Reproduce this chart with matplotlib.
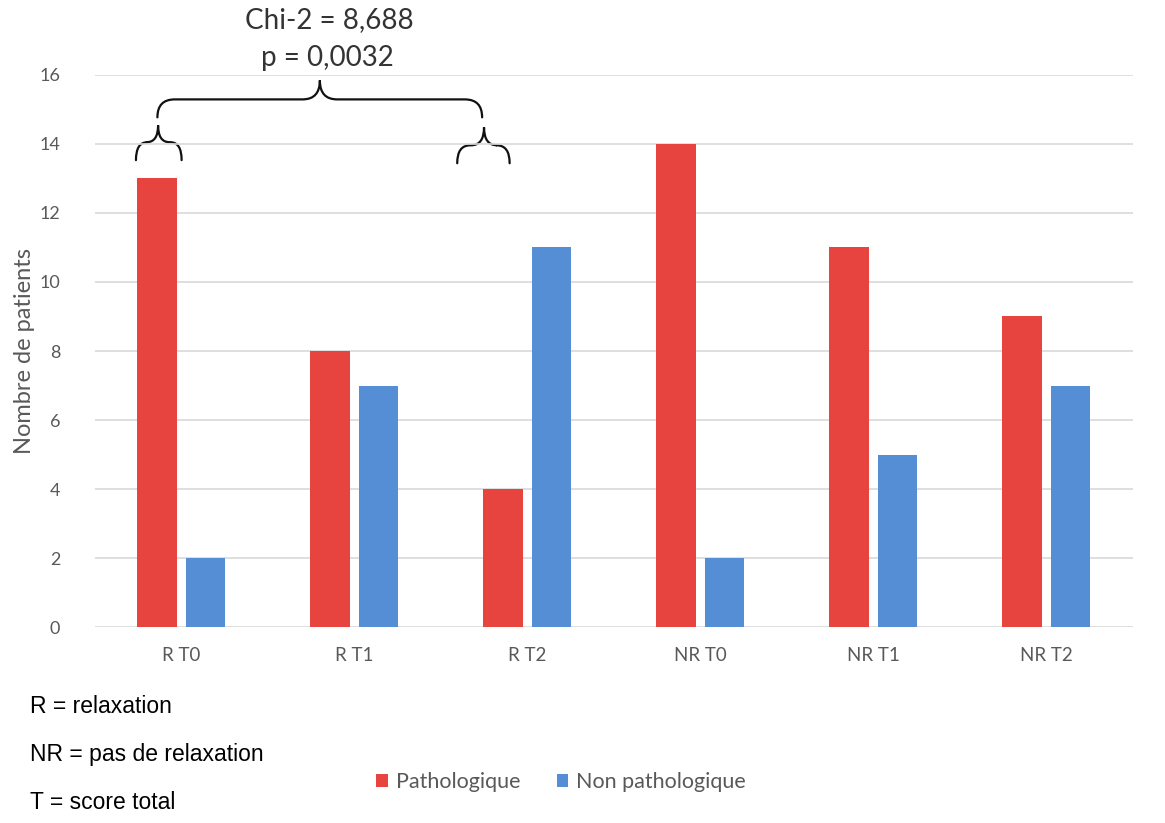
import matplotlib

matplotlib.use("Agg")
import matplotlib.pyplot as plt
import numpy as np
from matplotlib.patches import PathPatch
from matplotlib.path import Path

categories = ["R T0", "R T1", "R T2", "NR T0", "NR T1", "NR T2"]
pathologique = [13, 8, 4, 14, 11, 9]
non_pathologique = [2, 7, 11, 2, 5, 7]
series_names = ["Pathologique", "Non pathologique"]
y_ticks = [0, 2, 4, 6, 8, 10, 12, 14, 16]
stat_lines = ["Chi-2 = 8,688", "p = 0,0032"]
notes = ["R = relaxation", "NR = pas de relaxation", "T = score total"]

RED = "#E8443F"
BLUE = "#558ED5"
GREY_TXT = "#595959"
GRID = "#D9D9D9"
FONT = ["Lato", "DejaVu Sans"]


def brace(ax, x0, x1, xt, y_end, y_mid, y_tip, r):
    """Curly brace with its ends down and its point up at xt."""
    verts = [
        (x0, y_end), (x0, y_mid), (x0 + r, y_mid),
        (xt - r, y_mid),
        (xt, y_mid), (xt, y_tip),
        (xt, y_mid), (xt + r, y_mid),
        (x1 - r, y_mid),
        (x1, y_mid), (x1, y_end),
    ]
    codes = [
        Path.MOVETO, Path.CURVE3, Path.CURVE3,
        Path.LINETO,
        Path.CURVE3, Path.CURVE3,
        Path.CURVE3, Path.CURVE3,
        Path.LINETO,
        Path.CURVE3, Path.CURVE3,
    ]
    ax.add_patch(PathPatch(Path(verts, codes), fc="none", ec="#111111",
                           lw=1.6, clip_on=False, capstyle="round"))


fig = plt.figure(figsize=(11.65, 8.23), dpi=100)
ax = fig.add_axes([0.0815, 0.238, 0.891, 0.671])

x = np.arange(len(categories))
w = 0.227
off = 0.141
b1 = ax.bar(x - off, pathologique, w, color=RED, zorder=2)
b2 = ax.bar(x + off, non_pathologique, w, color=BLUE, zorder=2)

ax.set_xlim(-0.5, len(categories) - 0.5)
ax.set_ylim(0, 16)
ax.set_yticks(y_ticks)
ax.set_xticks(x)
ax.set_xticklabels(categories, family=FONT, fontsize=13.5, color=GREY_TXT)
for lab in ax.get_yticklabels():
    lab.set_family(FONT)
    lab.set_fontsize(13)
    lab.set_color(GREY_TXT)
ax.tick_params(length=0)
ax.tick_params(axis="y", pad=25)
ax.tick_params(axis="x", pad=14)
ax.grid(axis="y", color=GRID, lw=1.2, zorder=0)
for s in ax.spines.values():
    s.set_visible(False)
ax.set_ylabel("Nombre de patients", family=FONT, fontsize=17,
              color=GREY_TXT, labelpad=3)

# braces marking the R T0 / R T2 comparison
brace(ax, -0.139, 1.738, 0.800, 14.77, 15.29, 15.84, 0.10)
brace(ax, -0.263, 0.001, -0.135, 13.53, 14.05, 14.54, 0.066)
brace(ax, 1.594, 1.897, 1.749, 13.44, 13.96, 14.48, 0.075)

fig.text(0.283, 0.976, stat_lines[0], ha="center", va="center",
         family=FONT, fontsize=20, color="#333333")
fig.text(0.281, 0.929, stat_lines[1], ha="center", va="center",
         family=FONT, fontsize=20, color="#333333")

for note, yy in zip(notes, [0.142, 0.0838, 0.0255]):
    fig.text(0.0258, yy, note, ha="left", va="center",
             family="Liberation Sans", fontsize=16.5, color="black")

leg = fig.legend([b1, b2], series_names, loc="center",
                 bbox_to_anchor=(0.4815, 0.0498), ncol=2, frameon=False,
                 handlelength=0.55, handleheight=0.55, handletextpad=0.35,
                 columnspacing=1.7, prop={"family": FONT, "size": 15.5})
for t in leg.get_texts():
    t.set_color(GREY_TXT)

fig.savefig("out.png", dpi=100)
